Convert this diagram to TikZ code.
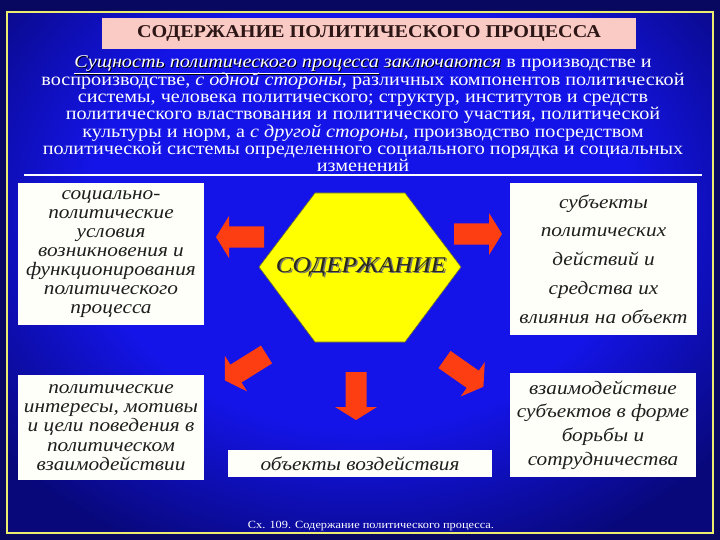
\documentclass[tikz,border=0pt]{standalone}
\usepackage{fontspec}
\setmainfont{Liberation Serif}[FakeStretch=1.12]
\usetikzlibrary{calc}
\definecolor{outerbg}{RGB}{8,8,96}
\definecolor{bgbright}{RGB}{20,20,232}
\definecolor{bgdark}{RGB}{8,8,122}
\definecolor{frameyellow}{RGB}{236,236,110}
\definecolor{titlepink}{RGB}{250,202,196}
\definecolor{titletext}{RGB}{45,22,22}
\definecolor{arrowred}{RGB}{252,62,18}
\definecolor{hexyellow}{RGB}{255,255,0}
\definecolor{hexline}{RGB}{110,110,40}
\definecolor{boxtext}{RGB}{30,30,30}
\definecolor{boxfill}{RGB}{255,255,250}
\pgfdeclareradialshading{bgshade}{\pgfpoint{0bp}{0bp}}{color(0bp)=(bgbright); color(15bp)=(bgbright); color(26bp)=(bgdark); color(50bp)=(bgdark)}
\newcommand\shtext[1]{\makebox[0pt][l]{\kern1pt\raisebox{-1pt}{\color{black}#1}}{#1}}
\newcommand\blockarrow[4]{%
  \fill[arrowred, shift={(#1,#2)}, rotate=#3]
    (0,-10.5) -- ({#4-13},-10.5) -- ({#4-13},-21) -- (#4,0) --
    ({#4-13},21) -- ({#4-13},10.5) -- (0,10.5) -- cycle;}
\begin{document}
\begin{tikzpicture}[x=1pt,y=-1pt,
  subline/.style={anchor=base, text=white, inner sep=0, font=\fontsize{18}{18}\selectfont},
  wbox/.style={fill=boxfill, inner sep=0, align=center, text=boxtext},
  boxtxt/.style={font=\fontsize{19}{#1}\selectfont\itshape}]
\useasboundingbox (0,0) rectangle (720,540);
\fill[outerbg] (0,0) rectangle (720,540);
\begin{scope}
  \clip (7,12) rectangle (713,533);
  \shade[shading=bgshade] (-93,-148) rectangle (813,573);
\end{scope}
\draw[frameyellow, line width=2.5pt] (7,12) rectangle (713,533);

% title
\node[fill=titlepink, minimum width=534, minimum height=31, inner sep=0] (title) at (369,33.5)
  {\fontsize{18}{18}\selectfont\bfseries\color{titletext}СОДЕРЖАНИЕ ПОЛИТИЧЕСКОГО ПРОЦЕССА};

% definition text
\node[subline] (l1) at (363,68.0) {\shtext{\itshape\underline{Сущность политического процесса} заключаются} в производстве и};
\node[subline] (l2) at (363,85.3) {воспроизводстве, \textit{с одной стороны}, различных компонентов политической};
\node[subline] (l3) at (363,102.6) {системы, человека политического; структур, институтов и средств};
\node[subline] (l4) at (363,119.9) {политического властвования и политического участия, политической};
\node[subline] (l5) at (363,137.2) {культуры и норм, а \textit{с другой стороны}, производство посредством};
\node[subline] (l6) at (363,154.5) {политической системы определенного социального порядка и социальных};
\node[subline] (l7) at (363,171.8) {изменений};
\coordinate (rl) at (24,175);
\coordinate (rr) at (702,175);
\draw[white, line width=2.5pt] (rl) -- (rr);

% hexagon
\filldraw[fill=hexyellow, draw=hexline, line width=0.6pt]
  (315,193) -- (405,193) -- (461,267) -- (405,342) -- (315,342) -- (259,267) -- cycle;
\node[text=black!55, font=\fontsize{22.5}{22.5}\selectfont\itshape] (hexsh) at (362.5,268.5) {СОДЕРЖАНИЕ};
\node[text={rgb,255:red,40;green,40;blue,30}, font=\fontsize{22.5}{22.5}\selectfont\itshape] (hex) at (361,267) {СОДЕРЖАНИЕ};

% boxes
\node[wbox, minimum width=186, minimum height=142, boxtxt=19] (b1) at (111,254)
  {социально-\\политические\\условия\\возникновения и\\функционирования\\политического\\процесса};
\node[wbox, minimum width=187, minimum height=152, boxtxt=28.8] (b2) at (603.5,259)
  {субъекты\\политических\\действий и\\средства их\\влияния на объект};
\node[wbox, minimum width=186, minimum height=105, boxtxt=19.3] (b3) at (111,427.5)
  {политические\\интересы, мотивы\\и цели поведения в\\политическом\\взаимодействии};
\node[wbox, minimum width=264, minimum height=27, boxtxt=19] (b4) at (360,463.5)
  {объекты воздействия};
\node[wbox, minimum width=186, minimum height=104, boxtxt=23.7] (b5) at (603,425)
  {взаимодействие\\субъектов в форме\\борьбы и\\сотрудничества};

% arrows
\blockarrow{264}{237}{180}{48}
\blockarrow{454}{234}{0}{48}
\blockarrow{356}{372}{-90}{48}
\blockarrow{266.5}{354.5}{212}{49}
\blockarrow{444.5}{359.5}{-35}{47.5}

% caption
\node[anchor=base, text=white, inner sep=0, font=\fontsize{11}{11}\selectfont] (cap) at (371,528.5)
  {Сх. 109. Содержание политического процесса.};
\end{tikzpicture}
\end{document}
